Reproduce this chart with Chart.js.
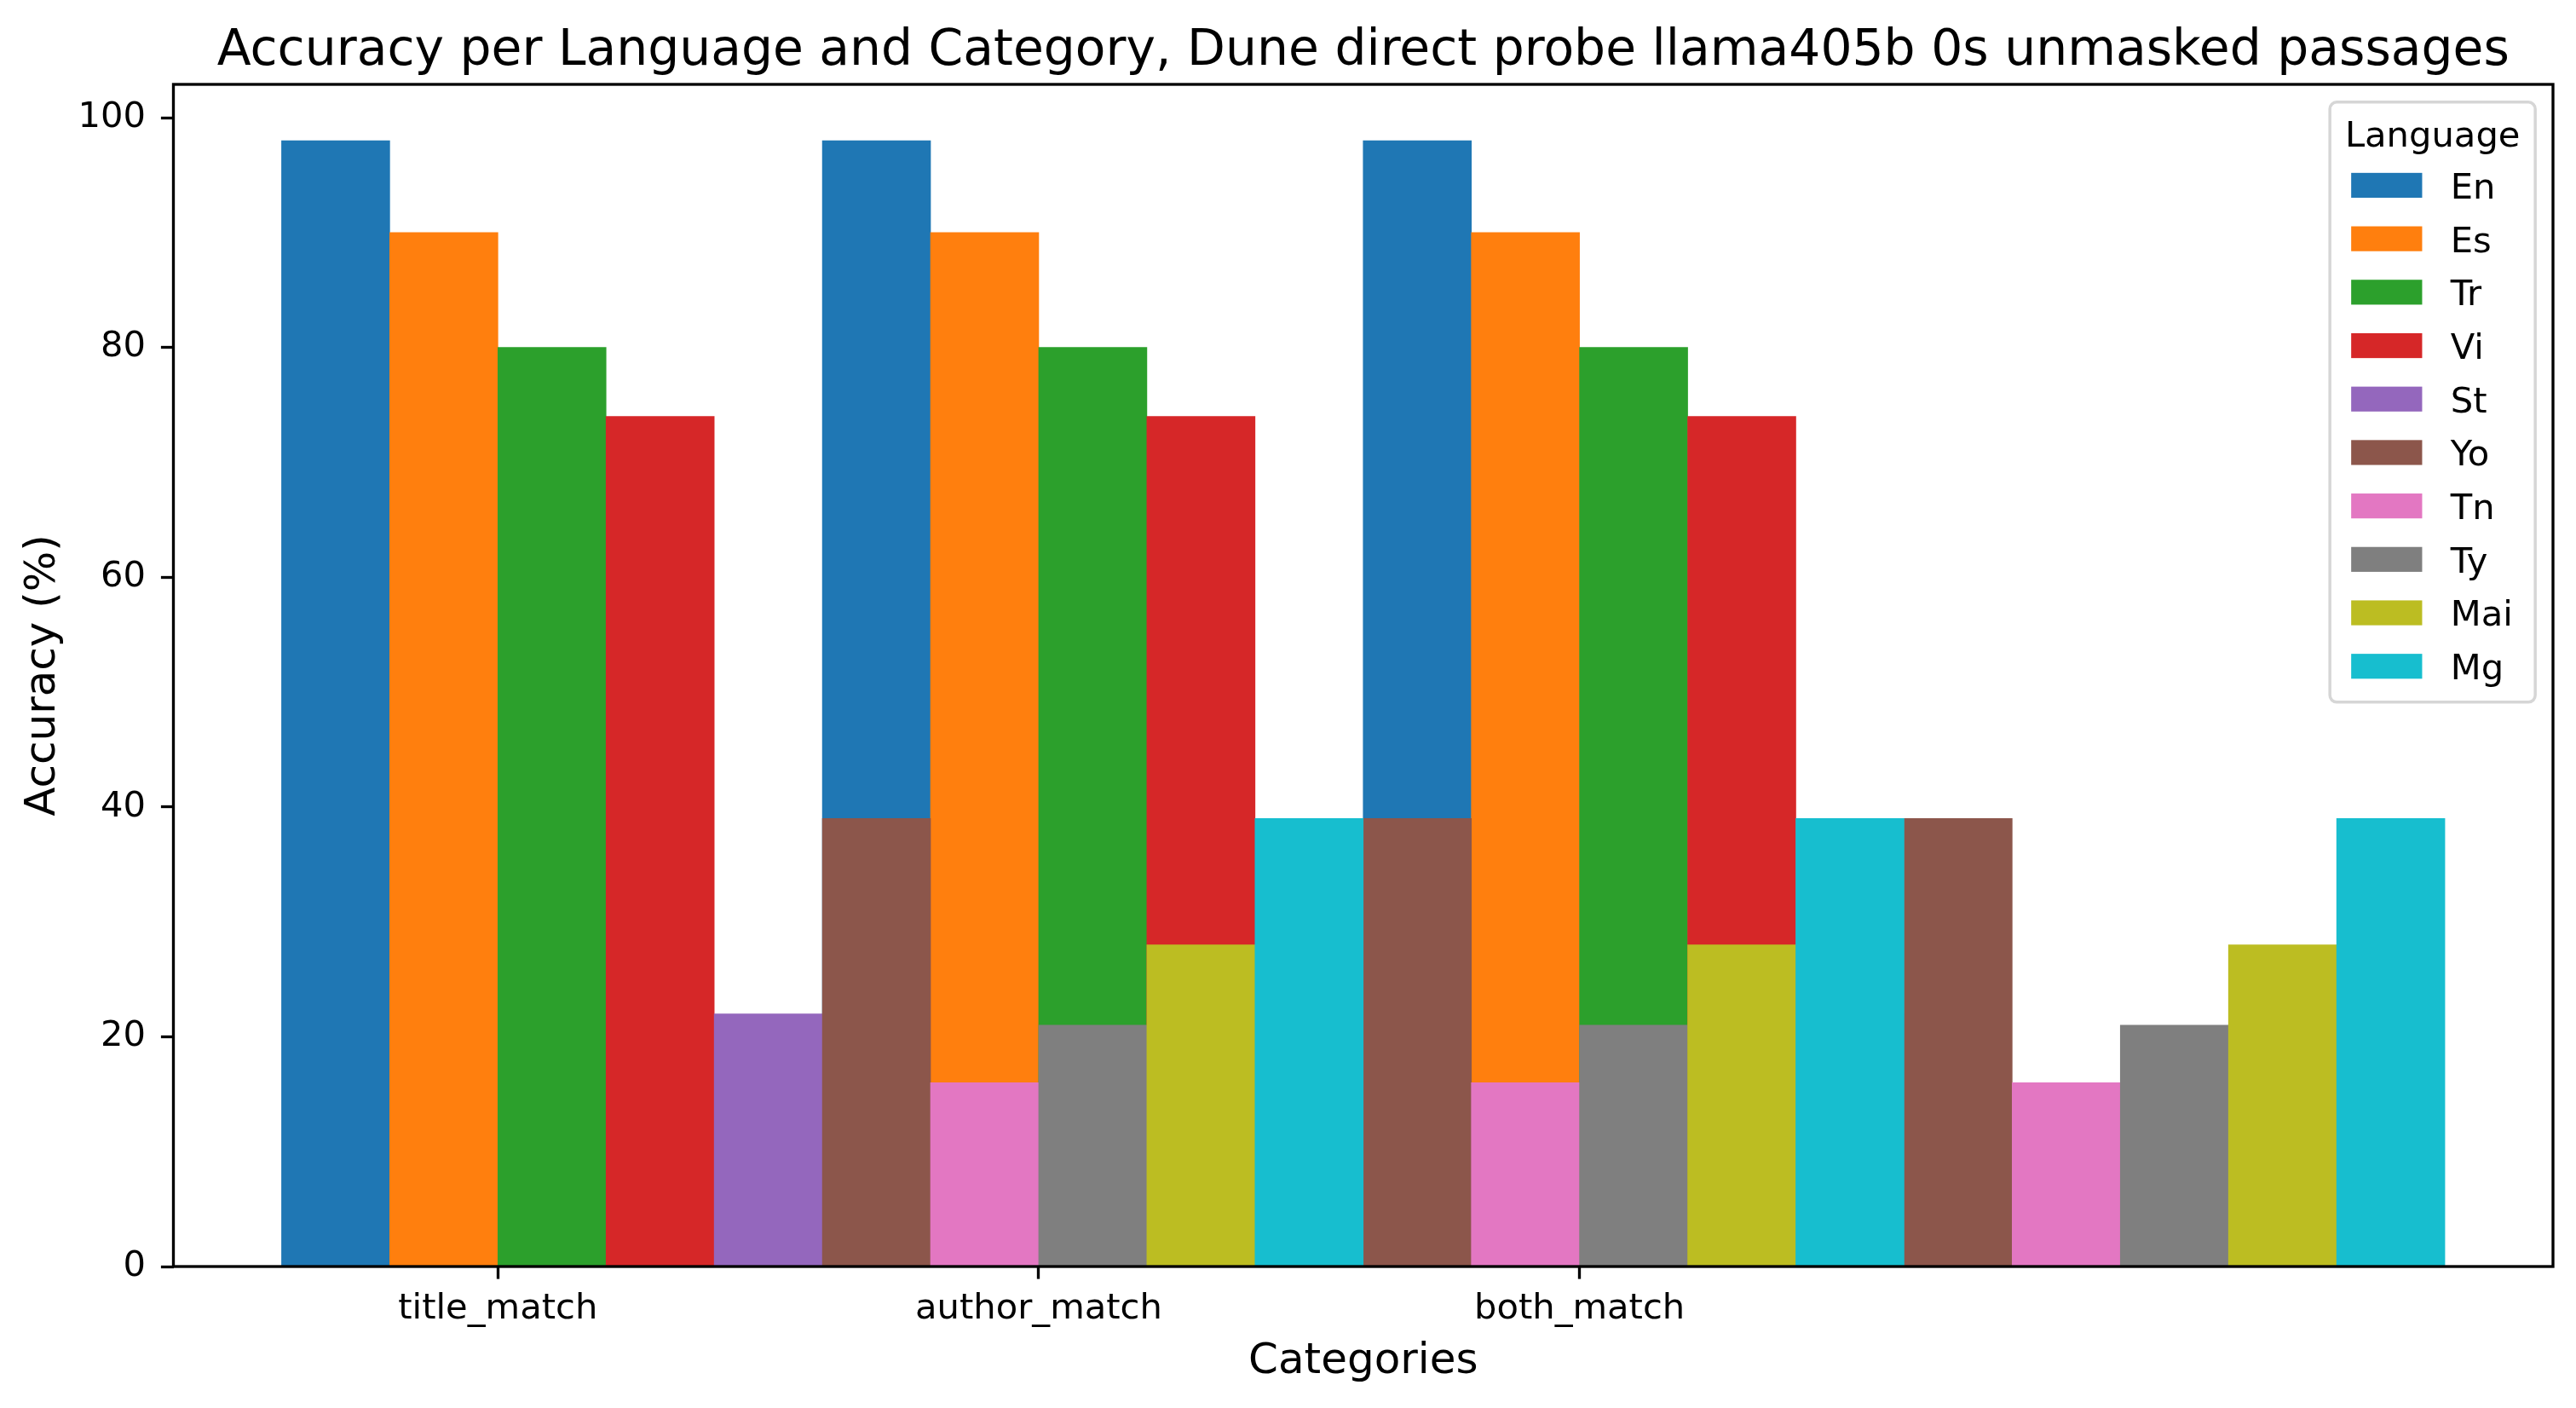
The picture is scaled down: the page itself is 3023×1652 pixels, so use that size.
<!DOCTYPE html>
<html>
<head>
<meta charset="utf-8">
<script src="https://cdn.jsdelivr.net/npm/chart.js@4.4.1/dist/chart.umd.min.js"></script>
<style>
  html, body { margin: 0; padding: 0; background: #fff; }
  #wrap { width: 3023px; height: 1652px; }
</style>
</head>
<body>
<div id="wrap"><canvas id="chart" width="3023" height="1652"></canvas></div>
<script>
// --- data ---
const categories = ['title_match', 'author_match', 'both_match'];
const languages = ['En', 'Es', 'Tr', 'Vi', 'St', 'Yo', 'Tn', 'Ty', 'Mai', 'Mg'];
// accuracy (%) per language, one value per category
const accEn  = [98, 98, 98];
const accEs  = [90, 90, 90];
const accTr  = [80, 80, 80];
const accVi  = [74, 74, 74];
const accSt  = [22, 22, 22];
const accYo  = [39, 39, 39];
const accTn  = [16, 16, 16];
const accTy  = [21, 21, 21];
const accMai = [28, 28, 28];
const accMg  = [39, 39, 39];
const yTicks = [0, 20, 40, 60, 80, 100];

const seriesValues = [accEn, accEs, accTr, accVi, accSt, accYo, accTn, accTy, accMai, accMg];
const colors = ['#1f77b4','#ff7f0e','#2ca02c','#d62728','#9467bd','#8c564b','#e377c2','#7f7f7f','#bcbd22','#17becf'];

// layout (original plot used bar width 0.2 and ticks at x + 1.5*width)
const barWidth = 0.2;
const FONT = '"DejaVu Sans", sans-serif';
const fsTick = 41.67, fsLabel = 50, fsTitle = 58.33;
const round2 = v => Math.round(v * 100) / 100;

const datasets = languages.map((lang, i) => ({
	label: lang,
	data: categories.map((c, j) => ({ x: round2(j + i * barWidth), y: seriesValues[i][j] })),
	backgroundColor: colors[i],
	borderWidth: 0,
	grouped: false,
	barPercentage: 1,
	categoryPercentage: 1,
	order: languages.length - i   // later languages are painted on top
}));

// frame, title and legend inside the axes (matplotlib style)
const decorPlugin = {
	id: 'decor',
	afterDatasetsDraw(chart) {
		const { ctx, chartArea: a } = chart;
		ctx.save();
		ctx.strokeStyle = '#000';
		ctx.lineWidth = 3.33;
		ctx.strokeRect(a.left, a.top, a.right - a.left, a.bottom - a.top);

		ctx.fillStyle = '#000';
		ctx.font = fsTitle + 'px ' + FONT;
		ctx.textAlign = 'center';
		ctx.textBaseline = 'alphabetic';
		ctx.fillText('Accuracy per Language and Category, Dune direct probe llama405b 0s unmasked passages', (a.left + a.right) / 2, 76);

		// legend box
		const boxW = 241, boxH = 704;
		const bx = a.right - 0.5 * fsTick - boxW, by = a.top + 0.5 * fsTick;
		ctx.beginPath();
		ctx.roundRect(bx, by, boxW, boxH, 8);
		ctx.fillStyle = 'rgba(255,255,255,0.8)';
		ctx.fill();
		ctx.lineWidth = 3.5;
		ctx.strokeStyle = 'rgba(204,204,204,0.8)';
		ctx.stroke();

		ctx.font = fsTick + 'px ' + FONT;
		ctx.fillStyle = '#000';
		ctx.textAlign = 'center';
		ctx.fillText('Language', bx + boxW / 2, by + 52);
		ctx.textAlign = 'left';
		chart.data.datasets.forEach((ds, i) => {
			const sx = bx + 25, sy = by + 83 + 62.7 * i;
			ctx.fillStyle = ds.backgroundColor;
			ctx.fillRect(sx, sy, 83.3, 29.2);
			ctx.fillStyle = '#000';
			ctx.fillText(ds.label, sx + 83.3 + 33.3, sy + 30);
		});
		ctx.restore();
	}
};

new Chart(document.getElementById('chart'), {
	type: 'bar',
	data: { datasets: datasets },
	plugins: [decorPlugin],
	options: {
		responsive: false,
		devicePixelRatio: 1,
		animation: false,
		layout: { padding: { top: 99, right: 27, left: 0, bottom: 0 } },
		plugins: {
			legend: { display: false },
			title: { display: false },
			tooltip: { enabled: false }
		},
		scales: {
			x: {
				type: 'linear',
				min: -0.3,
				max: 4.1,
				offset: false,
				afterBuildTicks: s => { s.ticks = categories.map((c, j) => ({ value: round2(j + 1.5 * barWidth) })); },
				afterFit: s => { s.height = 166; },
				ticks: {
					color: '#000',
					font: { family: FONT, size: fsTick },
					padding: 11,
					maxRotation: 0,
					autoSkip: false,
					callback: (v, idx) => categories[idx]
				},
				grid: { offset: false, drawOnChartArea: false, drawTicks: true, tickLength: 14.6, tickColor: '#000', tickWidth: 3.33 },
				border: { display: false },
				title: {
					display: true,
					text: 'Categories',
					color: '#000',
					font: { family: FONT, size: fsLabel, lineHeight: 1.2 },
					padding: { top: 0, bottom: 24 }
				}
			},
			y: {
				min: 0,
				max: 102.9,
				afterBuildTicks: s => { s.ticks = yTicks.map(v => ({ value: v })); },
				afterFit: s => { s.width = 203.5; },
				ticks: {
					color: '#000',
					font: { family: FONT, size: fsTick },
					padding: 17.9
				},
				grid: { drawOnChartArea: false, drawTicks: true, tickLength: 14.6, tickColor: '#000', tickWidth: 3.33 },
				border: { display: false },
				title: {
					display: true,
					text: 'Accuracy (%)',
					color: '#000',
					font: { family: FONT, size: fsLabel, lineHeight: 1.2 },
					padding: { top: 20.7, bottom: 0 }
				}
			}
		}
	}
});
</script>
</body>
</html>
